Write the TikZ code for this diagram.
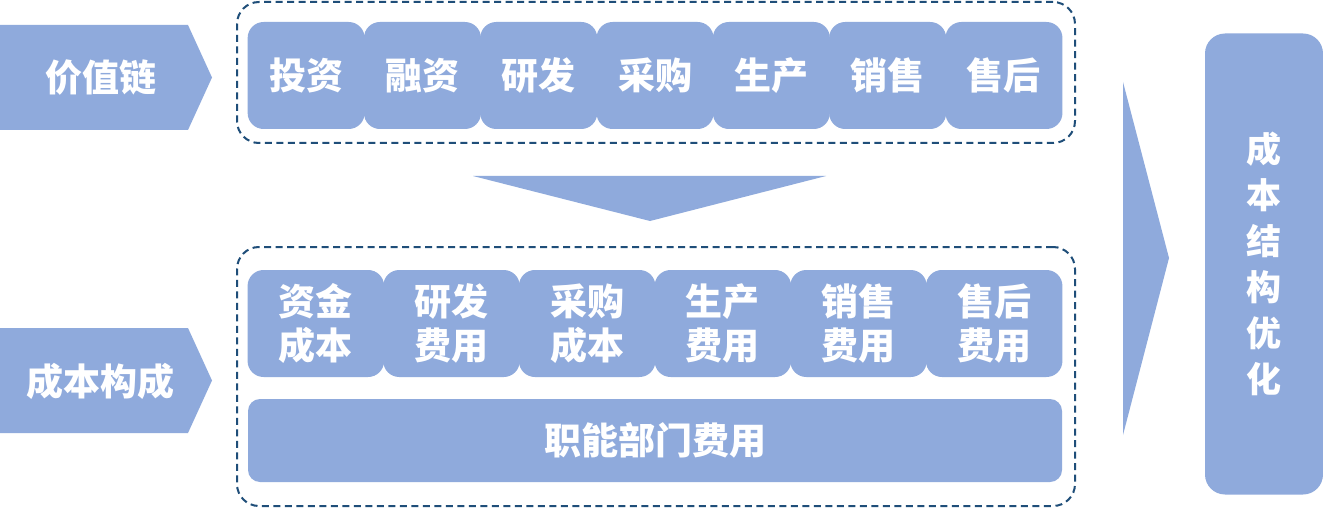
\documentclass[tikz,border=0pt]{standalone}
\usepackage{fontspec}
\setmainfont{Noto Sans CJK SC}
\definecolor{boxblue}{HTML}{8FAADC}
\definecolor{dashblue}{HTML}{1F4E79}
\begin{document}
\begin{tikzpicture}[x=1pt,y=-1pt,
  box/.style={fill=boxblue, draw=none, rounded corners=16pt, text=white,
    font=\bfseries\fontsize{37}{44}\selectfont, align=center, inner sep=0pt},
  topbox/.style={box, minimum width=117pt, minimum height=107pt},
  botbox/.style={box, minimum width=136.5pt, minimum height=107pt},
  frame/.style={draw=dashblue, line width=2pt, dash pattern=on 7pt off 4.5pt, rounded corners=22pt,
    inner sep=0pt, fill=none},
  shapefill/.style={fill=boxblue, draw=none},
  label/.style={text=white, font=\bfseries\fontsize{37}{44}\selectfont, inner sep=0pt}]
\useasboundingbox[fill=white] (0,0) rectangle (1323,508);

% left chevrons
\fill[shapefill] (0,25) -- (188,25) -- (212,77.5) -- (188,130) -- (0,130) -- cycle;
\node[label] (vc) at (101,78) {价值链};
\fill[shapefill] (0,328) -- (188,328) -- (212,380.5) -- (188,433) -- (0,433) -- cycle;
\node[label] (cc) at (101,381) {成本构成};

% frames
\node[frame, minimum width=838pt, minimum height=141pt] (f1) at (656,72.5) {};
\node[frame, minimum width=838pt, minimum height=259pt] (f2) at (656,376.5) {};

% top row
\foreach \t [count=\i from 0] in {投资,融资,研发,采购,生产,销售,售后} {
  \node[topbox] (t\i) at ({248+116.3*(\i+0.5)},75.5) {\t};
}

% down triangle
\fill[shapefill] (473,176) -- (826,176) -- (650,221) -- cycle;

% bottom row
\foreach \t [count=\i from 0] in {资金\\成本,研发\\费用,采购\\成本,生产\\费用,销售\\费用,售后\\费用} {
  \node[botbox] (b\i) at ({248+135.67*(\i+0.5)},323.5) {\t};
}
\node[box, minimum width=814pt, minimum height=83pt, rounded corners=12pt] (fn) at (655,440.5) {职能部门费用};

% right triangle
\fill[shapefill] (1123,82) -- (1169,258) -- (1123,435) -- cycle;

% result box
\node[box, minimum width=118pt, minimum height=461pt, rounded corners=20pt,
  font=\bfseries\fontsize{35}{46}\selectfont] (res) at (1264,264) {成\\本\\结\\构\\优\\化};
\end{tikzpicture}
\end{document}
